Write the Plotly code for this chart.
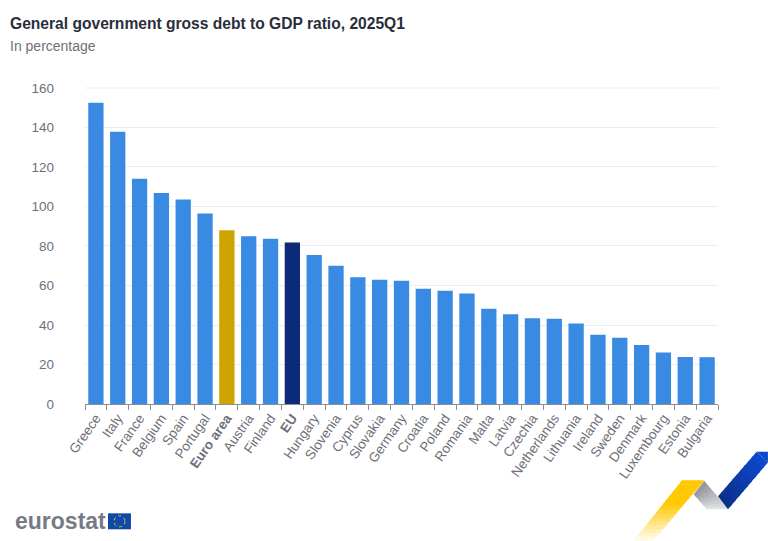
import plotly.graph_objects as go

countries = ["Greece", "Italy", "France", "Belgium", "Spain", "Portugal", "Euro area", "Austria",
             "Finland", "EU", "Hungary", "Slovenia", "Cyprus", "Slovakia", "Germany", "Croatia",
             "Poland", "Romania", "Malta", "Latvia", "Czechia", "Netherlands", "Lithuania",
             "Ireland", "Sweden", "Denmark", "Luxembourg", "Estonia", "Bulgaria"]
debt = [152.5, 137.9, 114.1, 106.8, 103.5, 96.4, 88.0, 84.9, 83.7, 81.8, 75.4, 70.0, 64.2, 62.9,
        62.4, 58.3, 57.4, 55.9, 48.2, 45.5, 43.4, 43.2, 40.7, 35.0, 33.5, 29.9, 26.1, 23.8, 23.7]
y_ticks = [0, 20, 40, 60, 80, 100, 120, 140, 160]

W, H = 768, 541
LEFT, RIGHT, TOP, BOTTOM = 84.5, 718, 87, 404.5
BLUE, GOLD, NAVY = "#388ae2", "#cfa400", "#0b2a78"
GREY = "#6e7079"
GRID = "#e9edf4"

colors = [GOLD if c == "Euro area" else NAVY if c == "EU" else BLUE for c in countries]
labels = [f"<b>{c}</b>" if c in ("Euro area", "EU") else c for c in countries]


# paper coordinates run over the plot area, decoration is placed in window pixels
def px_x(x):
    return (x - LEFT) / (RIGHT - LEFT)


def px_y(y):
    return (BOTTOM - y) / (BOTTOM - TOP)


def poly(points, color):
    path = "M " + " L ".join(f"{px_x(x):.4f},{px_y(y):.4f}" for x, y in points) + " Z"
    return dict(type="path", xref="paper", yref="paper", path=path, fillcolor=color,
                line=dict(width=0), layer="above")


def mix(c1, c2, t):
    return "rgb(" + ",".join(str(round(a + (b - a) * t)) for a, b in zip(c1, c2)) + ")"


fig = go.Figure(go.Bar(x=countries, y=debt, marker=dict(color=colors, line=dict(width=0))))

shapes = []

# top gridline did not show up with the axis grid alone
shapes.append(dict(type="line", xref="paper", yref="y", x0=0, x1=1, y0=y_ticks[-1], y1=y_ticks[-1],
                   line=dict(color=GRID, width=1), layer="below"))

# yellow ribbon, fades out towards the bottom left
steps = 16
for i in range(steps):
    t0, t1 = i / steps, (i + 1) / steps
    color = mix((255, 200, 0), (255, 255, 255), max(0, (t0 - 0.35) / 0.65))
    shapes.append(poly([(681.7 - 48 * t0, 481 + 60 * t0), (704.3 - 51 * t0, 481 + 60 * t0),
                        (704.3 - 51 * t1, 481 + 60 * t1 + 0.4), (681.7 - 48 * t1, 481 + 60 * t1 + 0.4)], color))

# grey fold, drawn from the far end so each strip overlaps the next
for i in reversed(range(8)):
    t0, t1 = i / 8, (i + 1.2) / 8
    color = mix((150, 152, 158), (238, 239, 242), t0)
    shapes.append(poly([(704.3 + 24 * t0, 481.5 + 28.5 * t0), (693.7 + 13 * t0, 495 + 15 * t0),
                        (693.7 + 13 * min(t1, 1), 495 + 15 * min(t1, 1)),
                        (704.3 + 24 * min(t1, 1), 481.5 + 28.5 * min(t1, 1))], color))

# blue ribbon, same overlap
for i in reversed(range(10)):
    t0, t1 = i / 10, min((i + 1.3) / 10, 1)
    color = mix((14, 71, 203), (10, 45, 130), t0)
    shapes.append(poly([(768 - 40 * t0, 463 + 47 * t0), (756.7 - 38.7 * t0, 452.3 + 44.7 * t0),
                        (756.7 - 38.7 * t1, 452.3 + 44.7 * t1), (768 - 40 * t1, 463 + 47 * t1)], color))
shapes.append(poly([(756.7, 452.3), (768, 452.3), (768, 463)], "#0e47cb"))

# EU flag next to the logo
shapes.append(dict(type="rect", xref="paper", yref="paper", x0=px_x(107.5), x1=px_x(130.5),
                   y0=px_y(530), y1=px_y(514), fillcolor="#0f4aa8", line=dict(width=0)))
shapes.append(dict(type="circle", xref="paper", yref="paper", x0=px_x(113.5), x1=px_x(124.5),
                   y0=px_y(527.5), y1=px_y(516.5), fillcolor="rgba(0,0,0,0)",
                   line=dict(color="#e5c63a", width=1, dash="dot")))

fig.update_layout(
    width=W,
    height=H,
    margin=dict(l=LEFT, r=W - RIGHT, t=TOP, b=H - BOTTOM),
    paper_bgcolor="white",
    plot_bgcolor="white",
    showlegend=False,
    bargap=0.3,
    font=dict(family="Liberation Sans, Arial, sans-serif", color=GREY),
    shapes=shapes,
    annotations=[
        dict(text="<b>General government gross debt to GDP ratio, 2025Q1</b>", x=px_x(10), y=px_y(23),
             xref="paper", yref="paper", xanchor="left", yanchor="middle", showarrow=False,
             xshift=-3, font=dict(size=15.6, color="#2a2e3a")),
        dict(text="In percentage", x=px_x(10), y=px_y(46), xref="paper", yref="paper",
             xanchor="left", yanchor="middle", showarrow=False, xshift=-3, font=dict(size=14, color=GREY)),
        dict(text="<b>eurostat</b>", x=px_x(14), y=px_y(522), xref="paper", yref="paper",
             xanchor="left", yanchor="middle", showarrow=False, xshift=-2, font=dict(size=23, color="#767a85")),
    ],
)
fig.update_xaxes(
    tickmode="array",
    tickvals=countries,
    ticktext=labels,
    tickangle=-55,
    tickson="boundaries",
    ticks="outside",
    ticklen=5,
    tickcolor="#8a8d94",
    showline=True,
    linecolor="#8a8d94",
    linewidth=1,
    showgrid=False,
    tickfont=dict(size=13.5, color=GREY),
)
fig.update_yaxes(
    # a hair above 160 so the top gridline is drawn
    range=[0, 160.5],
    tickmode="array",
    tickvals=y_ticks,
    gridcolor=GRID,
    gridwidth=1,
    zeroline=False,
    ticks="",
    ticklabelstandoff=30,
    tickfont=dict(size=13.5, color=GREY),
)

# the page's default body margin would push the chart 8px off
fig.write_html("out.html", config={"displayModeBar": False}, post_script="document.body.style.margin='0';")
